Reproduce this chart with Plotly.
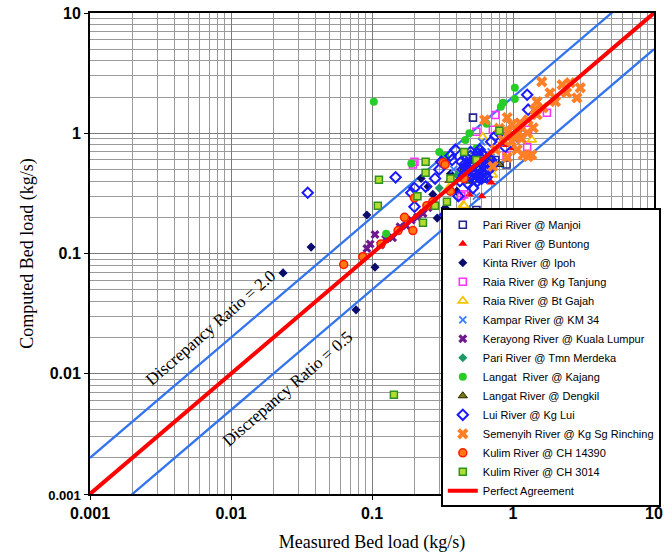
import plotly.graph_objects as go

# ---------------- data (kg/s) ----------------
pari_manjoi_x = [0.52, 0.55, 0.9, 0.62, 0.45, 0.75]
pari_manjoi_y = [1.35, 0.23, 0.55, 0.42, 0.5, 0.6]

pari_buntong_x = [0.49, 0.7, 0.45, 0.55, 0.9, 0.35, 0.6, 1.0, 0.42]
pari_buntong_y = [0.31, 0.39, 0.25, 0.45, 0.8, 0.4, 0.3, 0.75, 0.22]

kinta_x = [0.0234, 0.037, 0.092, 0.105, 0.077, 0.223, 0.27, 0.29, 0.33, 0.25, 0.36, 0.4]
kinta_y = [0.069, 0.113, 0.209, 0.077, 0.034, 0.42, 0.31, 0.197, 0.24, 0.36, 0.46, 0.33]

raia_tanjung_x = [0.75, 0.72, 0.55, 1.28, 1.74, 1.26, 0.43, 0.195, 0.2, 0.45, 0.9]
raia_tanjung_y = [1.42, 1.07, 1.03, 1.07, 1.48, 0.77, 0.3, 0.55, 0.58, 0.31, 0.65]

raia_gajah_x = [0.61, 1.36, 0.44, 0.72, 0.45, 0.35]
raia_gajah_y = [0.93, 0.88, 0.25, 0.45, 0.25, 0.35]

kampar_x = [0.43, 0.6, 0.52, 0.48, 0.7, 0.8, 0.38, 0.55, 0.9, 0.65, 1.1]
kampar_y = [0.18, 0.85, 0.62, 0.4, 0.7, 0.55, 0.5, 0.3, 0.95, 0.45, 1.1]

kerayong_x = [0.092, 0.097, 0.105, 0.115, 0.125, 0.14, 0.158, 0.175, 0.19, 0.21, 0.23, 0.25]
kerayong_y = [0.11, 0.12, 0.144, 0.118, 0.132, 0.135, 0.167, 0.17, 0.19, 0.2, 0.215, 0.24]

merdeka_x = [0.3, 0.5, 0.6, 0.4]
merdeka_y = [0.35, 0.6, 0.5, 0.45]

kajang_x = [0.103, 0.19, 0.3, 0.49, 0.126, 1.03, 1.03, 0.85, 0.82, 0.46, 0.55, 0.65, 0.33]
kajang_y = [1.83, 0.56, 0.70, 1.0, 0.146, 2.39, 1.93, 1.79, 1.66, 0.88, 0.75, 1.2, 0.65]

dengkil_x = [0.5, 0.7, 0.45, 0.8]
dengkil_y = [0.4, 0.6, 0.5, 0.55]

lui_x = [0.035, 0.147, 0.19, 0.2, 0.24, 0.2, 0.3, 0.33, 0.41, 0.40, 0.52, 0.65, 0.88, 1.09,
         0.39, 0.37, 0.31, 0.58, 1.26, 1.28, 0.45, 0.48, 0.5, 0.52, 0.55, 0.58, 0.6, 0.62,
         0.47, 0.5, 0.53, 0.56, 0.44, 0.6, 0.65, 0.7, 0.42, 0.46, 0.55, 0.7, 0.8, 0.36, 0.28, 0.75,
         0.49, 0.51, 0.54, 0.57, 0.59, 0.63, 0.66, 0.68, 0.46, 0.5, 0.53, 0.57, 0.61, 0.64,
         0.48, 0.52, 0.56, 0.6, 0.72, 0.43]
lui_y = [0.32, 0.43, 0.32, 0.35, 0.36, 0.245, 0.5, 0.21, 0.30, 0.21, 0.35, 0.43, 0.77, 0.92,
         0.73, 0.6, 0.58, 0.73, 2.09, 1.57, 0.45, 0.5, 0.55, 0.48, 0.52, 0.58, 0.47, 0.55,
         0.62, 0.65, 0.42, 0.4, 0.5, 0.68, 0.52, 0.6, 0.4, 0.56, 0.6, 0.85, 1.0, 0.65, 0.42, 0.95,
         0.44, 0.58, 0.46, 0.5, 0.62, 0.45, 0.57, 0.5, 0.53, 0.7, 0.61, 0.43, 0.66, 0.49,
         0.38, 0.53, 0.68, 0.42, 0.55, 0.58]

semenyih_x = [1.6, 2.23, 2.54, 3.0, 1.83, 2.4, 2.84, 1.48, 2.0, 1.63, 1.43, 0.63, 0.91, 0.98,
              1.12, 1.28, 1.48, 0.92, 1.09, 1.26, 1.39, 0.85, 0.98, 0.75, 1.07, 1.18, 1.36,
              0.72, 0.91, 1.28, 1.02, 1.15, 0.8]
semenyih_y = [2.68, 2.53, 2.63, 2.39, 2.17, 2.17, 1.97, 1.83, 1.83, 1.63, 1.57, 1.29, 1.35, 1.18,
              1.22, 1.29, 1.43, 1.03, 1.03, 1.01, 1.11, 0.88, 0.85, 0.73, 0.73, 0.66, 0.66,
              0.53, 0.63, 0.64, 0.95, 0.9, 1.1]

kulim14390_x = [0.063, 0.086, 0.116, 0.153, 0.195, 0.2, 0.245, 0.32, 0.33, 0.17, 0.27, 0.36, 0.45]
kulim14390_y = [0.081, 0.094, 0.12, 0.155, 0.155, 0.29, 0.25, 0.57, 0.55, 0.2, 0.27, 0.33, 0.42]

kulim3014_x = [0.143, 0.112, 0.11, 0.24, 0.24, 0.21, 0.23, 0.28, 0.34, 0.36, 0.55, 0.8, 0.45]
kulim3014_y = [0.0067, 0.41, 0.25, 0.58, 0.47, 0.30, 0.18, 0.25, 0.27, 0.42, 0.6, 1.05, 0.7]

line_x = [0.001, 10]
ratio_hi = 2.0
ratio_lo = 0.5

tick_vals = [0.001, 0.01, 0.1, 1, 10]
x_tick_text = ["0.001", "0.01", "0.1", "1", "10"]
y_tick_text = ['<span style="font-size:13px">0.001</span>', "0.01", "0.1", "1", "10"]

# ---------------- figure ----------------
fig = go.Figure()

blue = "#3274ee"
fig.add_trace(go.Scatter(x=line_x, y=[v * ratio_hi for v in line_x], mode="lines",
                         line=dict(color=blue, width=2.3), showlegend=False, hoverinfo="skip"))
fig.add_trace(go.Scatter(x=line_x, y=[v * ratio_lo for v in line_x], mode="lines",
                         line=dict(color=blue, width=2.3), showlegend=False, hoverinfo="skip"))


def sc(name, x, y, **marker):
    fig.add_trace(go.Scatter(x=x, y=y, mode="markers", name=name, marker=marker))


sc("Pari River @ Manjoi", pari_manjoi_x, pari_manjoi_y,
   symbol="square-open", size=7, color="#26268f", line=dict(width=1.6, color="#26268f"))
sc("Pari River @ Buntong", pari_buntong_x, pari_buntong_y,
   symbol="triangle-up", size=8, color="#ff0000")
sc("Kinta River @ Ipoh", kinta_x, kinta_y,
   symbol="diamond", size=7, color="#0b0b6b")
sc("Raia River @ Kg Tanjung", raia_tanjung_x, raia_tanjung_y,
   symbol="square-open", size=7, color="#ff33ff", line=dict(width=1.6, color="#ff33ff"))
sc("Raia River @ Bt Gajah", raia_gajah_x, raia_gajah_y,
   symbol="triangle-up", size=8, color="white", line=dict(width=1.8, color="#f5c400"))
sc("Kampar River @ KM 34", kampar_x, kampar_y,
   symbol="x-thin-open", size=7, color="#3b7bff", line=dict(width=1.8, color="#3b7bff"))
sc("Kerayong River @ Kuala Lumpur", kerayong_x, kerayong_y,
   symbol="x", size=8, color="#6e1a8e")
sc("Pari River @ Tmn Merdeka", merdeka_x, merdeka_y,
   symbol="diamond", size=7, color="#1f9a66")
sc("Langat  River @ Kajang", kajang_x, kajang_y,
   symbol="circle", size=8, color="#27cc27")
sc("Langat River @ Dengkil", dengkil_x, dengkil_y,
   symbol="triangle-up", size=8, color="#7a7a10", line=dict(width=1, color="#222200"))
sc("Lui River @ Kg Lui", lui_x, lui_y,
   symbol="diamond-open", size=8, color="#1a1aff", line=dict(width=2, color="#1a1aff"))
sc("Semenyih River @ Kg Sg Rinching", semenyih_x, semenyih_y,
   symbol="x", size=10, color="#ff7f27")
sc("Kulim River @ CH 14390", kulim14390_x, kulim14390_y,
   symbol="circle", size=8, color="#ff7a10", line=dict(width=1.5, color="#ff1a00"))
sc("Kulim River @ CH 3014", kulim3014_x, kulim3014_y,
   symbol="square", size=7, color="#b4dc30", line=dict(width=1.5, color="#2f8f1f"))

fig.add_trace(go.Scatter(x=line_x, y=line_x, mode="lines", name="Perfect Agreement",
                         line=dict(color="#ff0000", width=4)))

serif = "Liberation Serif, Times New Roman, serif"
sans = "Liberation Sans, Arial, sans-serif"

fig.add_annotation(x=-2.142, y=-1.617, xref="x", yref="y", text="Discrepancy Ratio = 2.0",
                   showarrow=False, textangle=-41, font=dict(family=serif, size=17, color="black"))
fig.add_annotation(x=-1.596, y=-2.125, xref="x", yref="y", text="Discrepancy Ratio = 0.5",
                   showarrow=False, textangle=-41, font=dict(family=serif, size=17, color="black"))

axis_common = dict(
    type="log", tickvals=tick_vals,
    showline=True, linecolor="black", linewidth=2, mirror=True,
    ticks="outside", ticklen=4, tickcolor="black",
    showgrid=True, gridcolor="#7a7a7a", gridwidth=1,
    minor=dict(dtick="D1", showgrid=True, gridcolor="#9a9a9a", gridwidth=1, ticks=""),
    tickfont=dict(family=sans, size=16, color="black", weight="bold"),
    zeroline=False,
)

fig.update_layout(
    width=668, height=559,
    margin=dict(l=90, r=14, t=13, b=65, autoexpand=False),
    paper_bgcolor="white", plot_bgcolor="white",
    xaxis=dict(range=[-3, 1], ticktext=x_tick_text,
               title=dict(text="Measured Bed load (kg/s)", font=dict(family=serif, size=18, color="black"),
                          standoff=14),
               **axis_common),
    yaxis=dict(range=[-3, 1], ticktext=y_tick_text,
               title=dict(text="Computed Bed load (kg/s)", font=dict(family=serif, size=18, color="black"),
                          standoff=10),
               **axis_common),
    legend=dict(x=0.622, y=0.594, xanchor="left", yanchor="top",
                bgcolor="white", bordercolor="black", borderwidth=2,
                font=dict(family=sans, size=11, color="black"),
                tracegroupgap=0, itemsizing="trace"),
    showlegend=True,
)

fig.write_html("out.html")
